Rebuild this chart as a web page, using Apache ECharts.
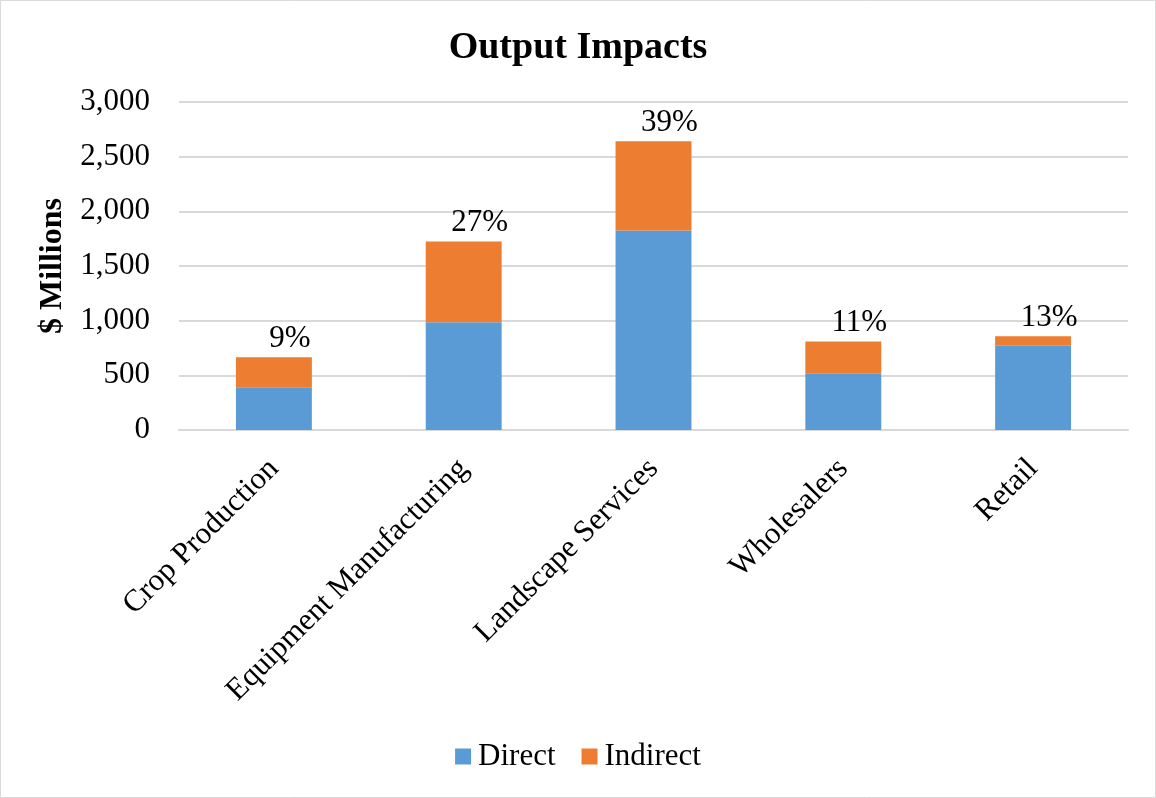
<!DOCTYPE html>
<html>
<head>
<meta charset="utf-8">
<script src="https://cdn.jsdelivr.net/npm/echarts@6/dist/echarts.min.js"></script>
<style>
html,body{margin:0;padding:0;background:#fff;}
#chart{width:1156px;height:798px;}
</style>
</head>
<body>
<div id="chart"></div>
<script>
const categories = ['Crop Production','Equipment Manufacturing','Landscape Services','Wholesalers','Retail'];
const directValues = [390, 985, 1825, 520, 770];
const indirectValues = [275, 740, 815, 290, 88];
const pctLabels = ['9%','27%','39%','11%','13%'];
const yTicks = [0, 500, 1000, 1500, 2000, 2500, 3000];

const FONT = '"Liberation Serif","Times New Roman",serif';
const chart = echarts.init(document.getElementById('chart'));
chart.setOption({
  backgroundColor: '#fff',
  textStyle: {fontFamily: FONT},
  title: {
    text: 'Output Impacts', left: 'center', top: 24,
    textStyle: {fontFamily: FONT, fontSize: 38, fontWeight: 'bold', color: '#000'}
  },
  legend: {
    bottom: 21, left: 'center', itemWidth: 16, itemHeight: 16, itemGap: 26,
    icon: 'rect',
    textStyle: {fontFamily: FONT, fontSize: 31, color: '#000', padding: [0,0,0,2]},
    data: ['Direct','Indirect']
  },
  grid: {left: 179, right: 28, top: 102, bottom: 368, containLabel: false},
  xAxis: {
    type: 'category', data: categories,
    axisLine: {lineStyle: {color: '#D9D9D9', width: 2}},
    axisTick: {show: false},
    axisLabel: {rotate: 45, interval: 0, margin: 34, fontFamily: FONT, fontSize: 31, color: '#000'}
  },
  yAxis: {
    type: 'value', min: 0, max: 3000, interval: 500,
    name: '$ Millions', nameLocation: 'middle', nameGap: 110, nameRotate: 90,
    nameTextStyle: {fontFamily: FONT, fontSize: 32, fontWeight: 'bold', color: '#000'},
    axisLine: {show: false}, axisTick: {show: false},
    axisLabel: {
      fontFamily: FONT, fontSize: 31, color: '#000', margin: 29,
      formatter: v => yTicks.includes(v) ? v.toLocaleString('en-US') : ''
    },
    splitLine: {lineStyle: {color: '#D9D9D9', width: 2}}
  },
  series: [
    {name: 'Direct', type: 'bar', stack: 'total', data: directValues, barWidth: '40%',
     itemStyle: {color: '#5B9BD5'}},
    {name: 'Indirect', type: 'bar', stack: 'total', data: indirectValues, barWidth: '40%',
     itemStyle: {color: '#ED7D31'},
     label: {show: true, position: 'top', offset: [16, 0], distance: 3,
       formatter: p => pctLabels[p.dataIndex],
       fontFamily: FONT, fontSize: 31, color: '#000'}}
  ],
  graphic: [{type: 'rect', shape: {x: 0.5, y: 0.5, width: 1155, height: 797},
    style: {fill: 'none', stroke: '#D9D9D9', lineWidth: 1}, silent: true}]
});
</script>
</body>
</html>
